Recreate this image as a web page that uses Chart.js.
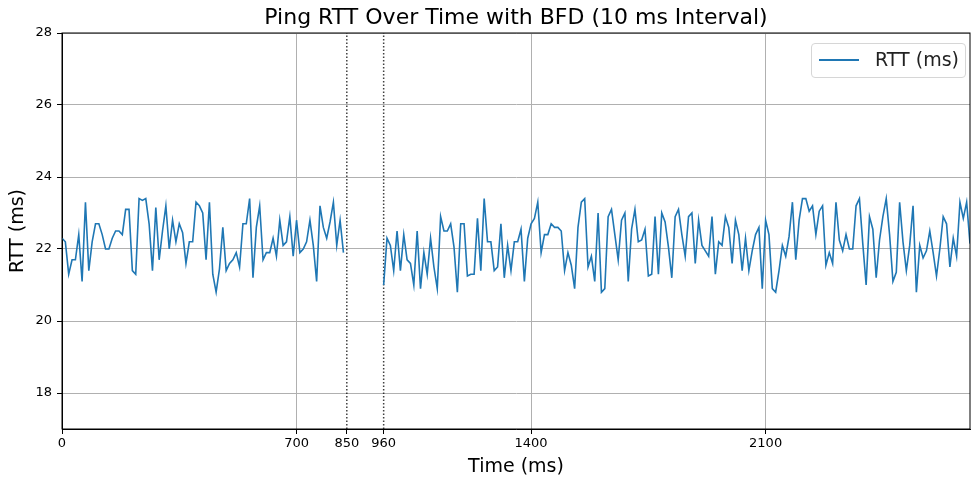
<!DOCTYPE html>
<html lang="en">
<head>
<meta charset="UTF-8">
<title>Ping RTT Over Time with BFD</title>
<script src="https://cdn.jsdelivr.net/npm/chart.js"></script>
<style>
  body { margin: 0; background: #fff; }
  #wrap { position: relative; width: 971px; height: 480px; }
  #legend {
    position: absolute; left: 811px; top: 43px; width: 153px; height: 33px;
    border: 1px solid #d6d6d6; border-radius: 4px; background: rgba(255,255,255,0.8);
    font-family: 'DejaVu Sans', sans-serif; font-size: 19px; color: #222;
  }
  #legend .swatch { position: absolute; left: 7px; top: 15px; width: 40px; height: 0; border-top: 2px solid #1f77b4; }
  #legend .label { position: absolute; left: 63px; top: 4px; white-space: nowrap; }
</style>
</head>
<body>
<div id="wrap">
  <canvas id="rttChart" width="971" height="480"></canvas>
  <div id="legend"><span class="swatch"></span><span class="label">RTT (ms)</span></div>
</div>

<script>
// sampling interval and segment starts (ms)
const INTERVAL = 10;
const seg1Start = 0;
const seg2Start = 960;

// RTT samples, before the BFD outage
const rttBefore = [
  22.3, 22.2, 21.3, 21.7, 21.7, 22.4, 21.1, 23.3, 21.4, 22.2, 22.7, 22.7, 22.4, 22.0, 22.0, 22.3,
  22.5, 22.5, 22.4, 23.1, 23.1, 21.4, 21.3, 23.4, 23.35, 23.4,
  22.7, 21.4, 23.15, 21.7, 22.5, 23.2, 22.0, 22.8, 22.2, 22.7, 22.45, 21.6, 22.2, 22.2, 23.3, 23.2,
  23.0, 21.7, 23.3, 21.3, 20.8, 21.45, 22.6, 21.4, 21.6, 21.7, 21.9,
  21.5, 22.7, 22.7, 23.4, 21.2, 22.6, 23.2, 21.7, 21.9, 21.9, 22.3, 21.8, 22.8, 22.1, 22.2, 22.9,
  21.8, 22.8, 21.9, 22.0, 22.2, 22.8, 22.1, 21.1, 23.2, 22.6, 22.3, 22.75, 23.3, 22.1, 22.8, 21.9
];

// RTT samples, after recovery
const rttAfter = [
  21.0, 22.3, 22.1, 21.4, 22.5, 21.4, 22.4, 21.7, 21.6, 21.0, 22.5, 20.9, 21.9, 21.3, 22.3, 21.5,
  20.9, 22.9, 22.5, 22.5, 22.7, 22.05, 20.8, 22.7, 22.7, 21.25, 21.3,
  21.3, 22.85, 21.4, 23.4, 22.2, 22.2, 21.4, 21.5, 22.7, 21.2, 22.1, 21.4, 22.2, 22.2, 22.55, 21.1,
  22.3, 22.7, 22.85, 23.3, 21.9, 22.4, 22.4, 22.7, 22.6, 22.6,
  22.5, 21.4, 21.9, 21.55, 20.9, 22.6, 23.3, 23.4, 21.5, 21.8, 21.1, 23.0, 20.8, 20.9, 22.9, 23.1,
  22.4, 21.7, 22.8, 23.0, 21.1, 22.55, 23.1, 22.2, 22.25, 22.55,
  21.25, 21.3, 22.9, 21.3, 23.0, 22.75, 22.05, 21.2, 22.9, 23.1, 22.4, 21.8, 22.9, 23.0, 21.6, 22.8,
  22.1, 21.95, 21.8, 22.9, 21.3, 22.2, 22.1, 22.9, 22.6, 21.6,
  22.8, 22.4, 21.4, 22.3, 21.4, 21.95, 22.4, 22.6, 20.9, 22.8, 22.4, 20.9, 20.8, 21.4, 22.1, 21.8,
  22.35, 23.3, 21.7, 22.8, 23.4, 23.4, 23.05, 23.2, 22.4, 23.05, 23.2,
  21.55, 21.9, 21.6, 23.3, 22.25, 21.95, 22.4, 22.0, 22.0, 23.2, 23.4, 22.15, 21.0, 22.9, 22.55, 21.2,
  22.25, 22.9, 23.4, 22.4, 21.1, 21.35, 23.3,
  22.2, 21.4, 22.1, 23.2, 20.8, 22.1, 21.75, 21.95, 22.5, 21.9, 21.25, 22.0, 22.9, 22.7, 21.5, 22.3,
  21.8, 23.3, 22.85, 23.3, 22.15
];

// outage markers and axes
const gapMarks = [850, 960];
const xTicks = [0, 700, 850, 960, 1400, 2100];
const xGridAt = [700, 1400, 2100];
const xMin = 0, xMax = 2710;
const yTicks = [18, 20, 22, 24, 26, 28];
const yMin = 17, yMax = 28;

const points = [];
rttBefore.forEach((v, i) => points.push({ x: seg1Start + i * INTERVAL, y: v }));
points.push({ x: (gapMarks[0] + gapMarks[1]) / 2, y: null });
rttAfter.forEach((v, i) => points.push({ x: seg2Start + i * INTERVAL, y: v }));

const markerSets = gapMarks.map(t => ({
  data: [{ x: t, y: yMin }, { x: t, y: yMax }],
  borderColor: 'rgba(0,0,0,0.75)',
  borderWidth: 1.5,
  borderDash: [1.5, 2],
  pointRadius: 0
}));

const frame = {
  id: 'frame',
  afterDraw(chart) {
    const { ctx, chartArea: a } = chart;
    ctx.save();
    ctx.strokeStyle = '#000';
    ctx.lineWidth = 1;
    ctx.strokeRect(a.left, a.top, a.right - a.left, a.bottom - a.top);
    ctx.restore();
  }
};

const font = 'DejaVu Sans';
Chart.defaults.font.family = font;
Chart.defaults.color = '#000';

new Chart(document.getElementById('rttChart'), {
  type: 'line',
  data: {
    datasets: [{
      label: 'RTT (ms)',
      data: points,
      borderColor: '#1f77b4',
      borderWidth: 1.6,
      pointRadius: 0,
      tension: 0,
      spanGaps: false
    }, ...markerSets]
  },
  options: {
    responsive: false,
    animation: false,
    layout: { padding: { left: 0, right: 1, top: 0, bottom: 0 } },
    plugins: {
      legend: { display: false },
      tooltip: { enabled: false },
      title: {
        display: true,
        fullSize: false,
        text: 'Ping RTT Over Time with BFD (10 ms Interval)',
        font: { size: 22, weight: 'normal' },
        color: '#000',
        padding: { top: 5, bottom: 1.6 }
      }
    },
    scales: {
      x: {
        type: 'linear',
        min: xMin, max: xMax,
        afterBuildTicks: s => { s.ticks = xTicks.map(v => ({ value: v })); },
        afterFit: s => { s.height = 51; },
        ticks: { font: { size: 13 }, padding: 2, maxRotation: 0, autoSkip: false, callback: v => String(v) },
        grid: {
          color: c => xGridAt.includes(c.tick && c.tick.value) ? '#b0b0b0' : 'rgba(0,0,0,0)',
          lineWidth: 1,
          tickColor: '#000',
          tickLength: 5
        },
        border: { color: '#000' },
        title: { display: true, text: 'Time (ms)', font: { size: 19 }, padding: { top: 0, bottom: 2 } }
      },
      y: {
        min: yMin, max: yMax,
        afterBuildTicks: s => { s.ticks = yTicks.map(v => ({ value: v })); },
        afterFit: s => { s.width = 62; },
        ticks: { font: { size: 13 }, padding: 5, callback: v => String(v) },
        grid: { color: '#b0b0b0', lineWidth: 1, tickColor: '#000', tickLength: 5 },
        border: { color: '#000' },
        title: { display: true, text: 'RTT (ms)', font: { size: 19 }, padding: { top: 7, bottom: 0 } }
      }
    }
  },
  plugins: [frame]
});
</script>
</body>
</html>
